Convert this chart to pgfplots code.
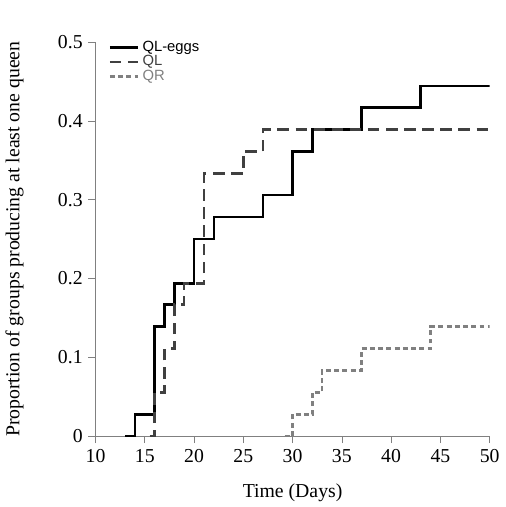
\documentclass[border=0pt]{standalone}
\usepackage{pgfplots}
\pgfplotsset{compat=1.18}
\usepackage{fontspec}
\setmainfont{Liberation Serif}
\newfontfamily\lsans{Liberation Sans}
\begin{document}
\begin{tikzpicture}
\begin{axis}[
  width=10.0cm, height=10.0cm,
  xmin=10, xmax=50, ymin=0, ymax=0.5,
  axis x line*=bottom, axis y line*=left,
  xtick={10,15,...,50}, ytick={0,0.1,...,0.5},
  yticklabels={0,0.1,0.2,0.3,0.4,0.5},
  tick align=outside, tick style={gray, thin},
  axis line style={gray, thin},
  /pgf/number format/assume math mode=true,
  ticklabel style={font=\large},
  xlabel={Time (Days)}, ylabel={Proportion of groups producing at least one queen},
  label style={font=\large},
  ylabel style={yshift=14pt},
  xlabel style={yshift=-6pt},
  title={\vphantom{Xg}}, title style={yshift=4pt},
  legend style={draw=none, fill=none, at={(0.02,1.02)}, anchor=north west, font=\lsans\small, row sep=-3pt},
  legend cell align=left,
]
\addplot[const plot, black, line width=1.5pt] coordinates {(13,0)(14,0.0278)(16,0.139)(17,0.167)(18,0.194)(20,0.25)(22,0.278)(27,0.306)(30,0.361)(32,0.389)(37,0.417)(43,0.444)(50,0.444)};
\addlegendentry{QL-eggs}
\addplot[const plot, black!75, line width=1.5pt, dash pattern=on 7pt off 4pt] coordinates {(15.5,0)(16,0.0556)(17,0.111)(18,0.167)(19,0.194)(21,0.333)(25,0.361)(27,0.389)(50,0.389)};
\addlegendentry{\textcolor{black!75}{QL}}
\addplot[const plot, black!50, line width=1.5pt, dash pattern=on 3pt off 2pt] coordinates {(29.2,0)(30,0.0278)(32,0.0556)(33,0.0833)(37,0.111)(44,0.139)(50,0.139)};
\addlegendentry{\textcolor{black!50}{QR}}
\end{axis}
\end{tikzpicture}
\end{document}
